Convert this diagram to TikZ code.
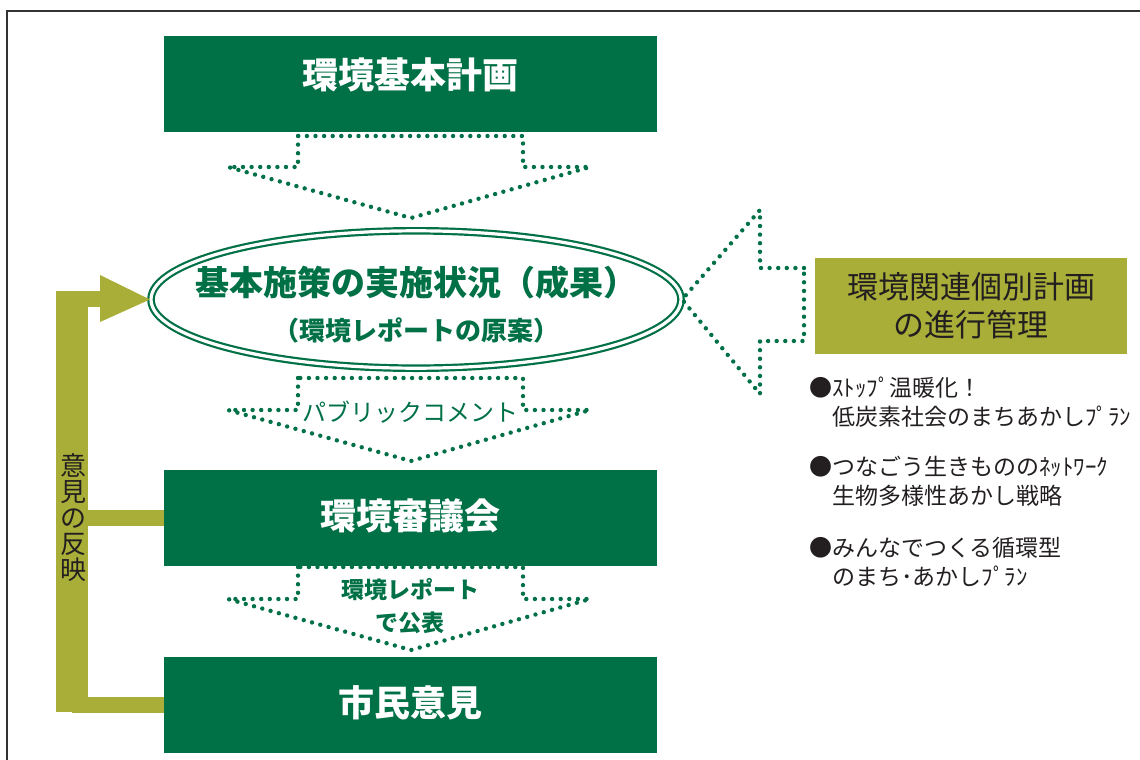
\documentclass[tikz,border=0pt]{standalone}
\usepackage{fontspec}
\setmainfont{Noto Sans CJK JP}
\usetikzlibrary{shapes.geometric, positioning}
\definecolor{kgreen}{RGB}{0,112,70}
\definecolor{kolive}{RGB}{169,174,56}
\definecolor{ktext}{RGB}{35,31,32}
\tikzset{
  greenbox/.style={fill=kgreen, text=white, font=\fontsize{18}{22}\selectfont\bfseries,
	minimum width=246.5pt, minimum height=48pt, inner sep=0pt,
	text height=15pt, text depth=3pt}, % the three green boxes
  olivebox/.style={fill=kolive, text=ktext, font=\fontsize{15.5}{19}\selectfont,
	minimum width=156pt, minimum height=48pt, align=center, inner sep=0pt},
  seikabox/.style={ellipse, draw=kgreen, double=white, double distance=1.6pt,
	line width=1.1pt, minimum width=265pt, minimum height=68.7pt, inner sep=0pt},
  seikatext/.style={text=kgreen, font=\bfseries, inner sep=0pt},
  dotarrow/.style={draw=kgreen, line width=2.2pt, line cap=round, line join=round,
	dash pattern=on 0pt off 4.3pt}, % the dotted block arrows
  arrowlabel/.style={text=kgreen, font=\fontsize{12}{16.5}\selectfont, align=center, inner sep=0pt},
  listitem/.style={text=ktext, font=\fontsize{11.5}{14.5}\selectfont, align=left,
	anchor=west, inner sep=0pt},
  fbbar/.style={draw=kolive, line width=8pt}, % the olive feedback line
}

\begin{document}
\begin{tikzpicture}[x=0.5pt, y=-0.5pt]
	  \useasboundingbox (0,0) rectangle (1140,760);
	  \draw[draw=black!80, line width=1pt] (7,760) -- (7,11) -- (1140,11);

	  % feedback from the council and the citizens
	  \coordinate (fbx) at (72,0);
	  \fill[kolive] (56,291) rectangle (88,711.5);
	  \draw[fbbar] (88,299) -- (101,299);

	  \node[greenbox, text depth=11pt] (kihon) at (410.5,84) {環境基本計画};
	  \node[greenbox, below=168.5pt of kihon] (shingi) {環境審議会};
	  \node[greenbox, below=45pt of shingi] (shimin) {市民意見};

	  \draw[fbbar] (shingi.west) -- (shingi.west -| fbx);
	  \draw[fbbar] (shimin.west) -- (shimin.west -| fbx);

	  \node[seikabox] (seika) at (416,299.5) {};
	  \node[seikatext, font=\fontsize{17}{20}\selectfont\bfseries] (seikatop) at (416,283) {基本施策の実施状況（成果）};
	  \node[seikatext, font=\fontsize{13}{16}\selectfont\bfseries] (seikasub) at (416,330) {（環境レポートの原案）};
	  \fill[kolive] (100,275) -- (seika.west) -- (100,322) -- cycle;

	  \node[text=ktext, font=\fontsize{13}{13}\selectfont, align=center, inner sep=0pt] (hanei) at (74,518) {意\\見\\の\\反\\映};

	  % dotted arrows downwards
	  \foreach \ya/\yb/\yc in {136/167/218, 378/410/461, 567/599/650}
		\draw[dotarrow] (298,\ya) -- (298,\yb) -- (228,\yb) -- (411,\yc)
		  -- (590,\yb) -- (523,\yb) -- (523,\ya) -- cycle;
	  \node[arrowlabel] (pubcom) at (410,412) {パブリックコメント};
	  \node[arrowlabel, font=\fontsize{11.5}{16.5}\selectfont\bfseries] (kohyo) at (410,606.5) {環境レポート\\で公表};

	  % related plans
	  \node[olivebox] (kanren) at (971,306) {環境関連個別計画\\の進行管理};
	  \draw[dotarrow] (804,268) -- (760,268) -- (760,210) -- (seika.east)
		-- (760,394) -- (760,341) -- (804,341) -- cycle;

	  \node[listitem] (plan1) at (809,402.5) {●ｽﾄｯﾌﾟ温暖化！\\　低炭素社会のまちあかしﾌﾟﾗﾝ};
	  \node[listitem] (plan2) at (809,481.5) {●つなごう生きもののﾈｯﾄﾜｰｸ\\　生物多様性あかし戦略};
	  \node[listitem] (plan3) at (809,562.5) {●みんなでつくる循環型\\　のまち･あかしﾌﾟﾗﾝ};
\end{tikzpicture}
\end{document}
